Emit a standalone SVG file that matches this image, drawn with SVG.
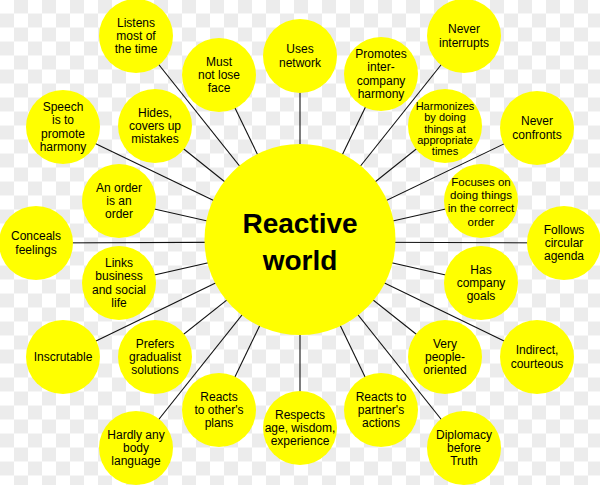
<svg xmlns="http://www.w3.org/2000/svg" width="600" height="485" viewBox="0 0 600 485">
<defs>
<pattern id="checker" x="0" y="-0.5" width="28" height="28" patternUnits="userSpaceOnUse">
<rect width="28" height="28" fill="#ffffff"/>
<rect x="14" y="0" width="14" height="14" fill="#ececec"/>
<rect x="0" y="14" width="14" height="14" fill="#ececec"/>
</pattern>
</defs>
<style>
.n circle{fill:#ffff00;}
.n text{font-family:"Liberation Sans",Arial,Helvetica,sans-serif;font-size:12px;fill:#000;text-anchor:middle;}
.c line{stroke:#111;stroke-width:1.1;}
.n text.t{font-size:28px;font-weight:bold;}
</style>
<rect width="600" height="485" fill="url(#checker)"/>
<g id="connectors" class="c">
<line x1="300" y1="242" x2="136" y2="36"/>
<line x1="300" y1="242" x2="219" y2="75"/>
<line x1="300" y1="242" x2="300" y2="56"/>
<line x1="300" y1="242" x2="381" y2="75"/>
<line x1="300" y1="242" x2="464" y2="36"/>
<line x1="300" y1="242" x2="63" y2="128"/>
<line x1="300" y1="242" x2="155" y2="126"/>
<line x1="300" y1="242" x2="445" y2="126"/>
<line x1="300" y1="242" x2="537" y2="128"/>
<line x1="300" y1="242" x2="119" y2="201"/>
<line x1="300" y1="242" x2="481" y2="201"/>
<line x1="300" y1="242" x2="36" y2="243"/>
<line x1="300" y1="242" x2="564" y2="243"/>
<line x1="300" y1="242" x2="119" y2="283"/>
<line x1="300" y1="242" x2="481" y2="283"/>
<line x1="300" y1="242" x2="63" y2="357"/>
<line x1="300" y1="242" x2="155" y2="357"/>
<line x1="300" y1="242" x2="445" y2="357"/>
<line x1="300" y1="242" x2="537" y2="357"/>
<line x1="300" y1="242" x2="219" y2="410"/>
<line x1="300" y1="242" x2="300" y2="428"/>
<line x1="300" y1="242" x2="381" y2="410"/>
<line x1="300" y1="242" x2="136" y2="448"/>
<line x1="300" y1="242" x2="464" y2="448"/>
</g>
<g id="center" class="n">
<circle cx="300" cy="239.5" r="95.5"/>
<text class="t" x="300" y="233">Reactive</text>
<text class="t" x="300" y="270">world</text>
</g>
<g id="n1" class="n"><circle cx="136" cy="36" r="37"/><text x="136" y="26.6">Listens</text><text x="136" y="40">most of</text><text x="136" y="53.4">the time</text></g>
<g id="n2" class="n"><circle cx="219" cy="75" r="37"/><text x="219" y="65.6">Must</text><text x="219" y="79">not lose</text><text x="219" y="92.4">face</text></g>
<g id="n3" class="n"><circle cx="300" cy="56" r="37"/><text x="300" y="53.3">Uses</text><text x="300" y="66.7">network</text></g>
<g id="n4" class="n"><circle cx="381" cy="74" r="37"/><text x="381" y="57.9">Promotes</text><text x="381" y="71.3">inter-</text><text x="381" y="84.7">company</text><text x="381" y="98.1">harmony</text></g>
<g id="n5" class="n"><circle cx="464" cy="36" r="37"/><text x="464" y="33.3">Never</text><text x="464" y="46.7">interrupts</text></g>
<g id="n6" class="n"><circle cx="63" cy="127" r="37"/><text x="63" y="110.9">Speech</text><text x="63" y="124.3">is to</text><text x="63" y="137.7">promote</text><text x="63" y="151.1">harmony</text></g>
<g id="n7" class="n"><circle cx="155" cy="126" r="37"/><text x="155" y="116.6">Hides,</text><text x="155" y="130">covers up</text><text x="155" y="143.4">mistakes</text></g>
<g id="n8" class="n"><circle cx="445" cy="126" r="37"/><text x="445" y="110" style="font-size:11px">Harmonizes</text><text x="445" y="121.3" style="font-size:11px">by doing</text><text x="445" y="132.6" style="font-size:11px">things at</text><text x="445" y="143.9" style="font-size:11px">appropriate</text><text x="445" y="155.2" style="font-size:11px">times</text></g>
<g id="n9" class="n"><circle cx="537" cy="128" r="37"/><text x="537" y="125.3">Never</text><text x="537" y="138.7">confronts</text></g>
<g id="n10" class="n"><circle cx="119" cy="201" r="37"/><text x="119" y="191.6">An order</text><text x="119" y="205">is an</text><text x="119" y="218.4">order</text></g>
<g id="n11" class="n"><circle cx="481" cy="201" r="37"/><text x="481" y="186" style="font-size:11.5px">Focuses on</text><text x="481" y="199.2" style="font-size:11.5px">doing things</text><text x="481" y="212.4" style="font-size:11.5px">in the correct</text><text x="481" y="225.6" style="font-size:11.5px">order</text></g>
<g id="n12" class="n"><circle cx="36" cy="243" r="37"/><text x="36" y="240.3">Conceals</text><text x="36" y="253.7">feelings</text></g>
<g id="n13" class="n"><circle cx="564" cy="243" r="37"/><text x="564" y="233.6">Follows</text><text x="564" y="247">circular</text><text x="564" y="260.4">agenda</text></g>
<g id="n14" class="n"><circle cx="119" cy="283" r="37"/><text x="119" y="266.9">Links</text><text x="119" y="280.3">business</text><text x="119" y="293.7">and social</text><text x="119" y="307.1">life</text></g>
<g id="n15" class="n"><circle cx="481" cy="283" r="37"/><text x="481" y="273.6">Has</text><text x="481" y="287">company</text><text x="481" y="300.4">goals</text></g>
<g id="n16" class="n"><circle cx="63" cy="357" r="37"/><text x="63" y="361.3">Inscrutable</text></g>
<g id="n17" class="n"><circle cx="155" cy="357" r="37"/><text x="155" y="347.6">Prefers</text><text x="155" y="361">gradualist</text><text x="155" y="374.4">solutions</text></g>
<g id="n18" class="n"><circle cx="445" cy="357" r="37"/><text x="445" y="347.6">Very</text><text x="445" y="361">people-</text><text x="445" y="374.4">oriented</text></g>
<g id="n19" class="n"><circle cx="537" cy="357" r="37"/><text x="537" y="354.3">Indirect,</text><text x="537" y="367.7">courteous</text></g>
<g id="n20" class="n"><circle cx="219" cy="410" r="37"/><text x="219" y="400.6">Reacts</text><text x="219" y="414">to other's</text><text x="219" y="427.4">plans</text></g>
<g id="n21" class="n"><circle cx="300" cy="428" r="37"/><text x="300" y="418.6">Respects</text><text x="300" y="432">age, wisdom,</text><text x="300" y="445.4">experience</text></g>
<g id="n22" class="n"><circle cx="381" cy="410" r="37"/><text x="381" y="400.6">Reacts to</text><text x="381" y="414">partner's</text><text x="381" y="427.4">actions</text></g>
<g id="n23" class="n"><circle cx="136" cy="448" r="37"/><text x="136" y="438.6">Hardly any</text><text x="136" y="452">body</text><text x="136" y="465.4">language</text></g>
<g id="n24" class="n"><circle cx="464" cy="448" r="37"/><text x="464" y="438.6">Diplomacy</text><text x="464" y="452">before</text><text x="464" y="465.4">Truth</text></g>
</svg>
